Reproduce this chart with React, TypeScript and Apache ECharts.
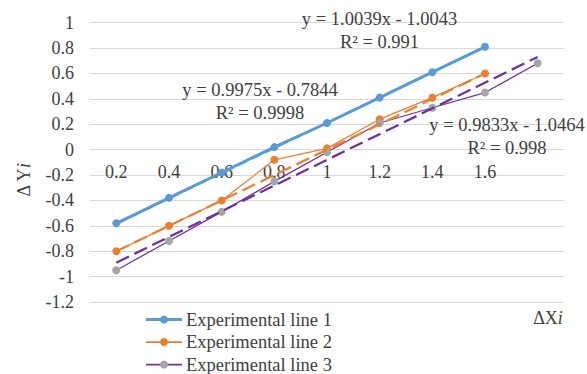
import React, { useEffect, useRef } from "react";
import * as echarts from "echarts";

const categories = ["0.2", "0.4", "0.6", "0.8", "1", "1.2", "1.4", "1.6", ""];
const line1 = [-0.58, -0.38, -0.18, 0.02, 0.21, 0.41, 0.61, 0.81];
const line2 = [-0.8, -0.6, -0.4, -0.08, 0.01, 0.24, 0.41, 0.6];
const line3 = [-0.95, -0.72, -0.49, -0.25, -0.02, 0.21, 0.33, 0.45, 0.68];
const trend1 = [-0.585, null, null, null, null, null, null, 0.81];
const trend2 = [-0.8, null, null, null, null, null, null, 0.6];
const trend3 = [-0.89, null, null, null, null, null, null, null, 0.73];
const seriesNames = ["Experimental line 1", "Experimental line 2", "Experimental line 3"];
const eq1 = ["y = 0.9975x - 0.7844", "R² = 0.9998"];
const eq2 = ["y = 1.0039x - 1.0043", "R² = 0.991"];
const eq3 = ["y = 0.9833x - 1.0464", "R² = 0.998"];
const yMin = -1.2;
const yMax = 1;
const yStep = 0.2;

const FONT = "Liberation Serif";
const TXT = "#404040";
const LINE_COLORS = ["#5B9BD5", "#ED7D31", "#7030A0"];
const MARK_COLORS = ["#5B9BD5", "#ED7D31", "#A5A5A5"];
const LINE_WIDTHS = [3, 1.25, 1.25];

const GRID_TOP = 22.7;
const GRID_BOTTOM = 72;
const H = 374;

export default function App() {
  const ref = useRef<HTMLDivElement>(null);
  useEffect(() => {
    const chart = echarts.init(ref.current!, null, { renderer: "svg" });
    const plotH = H - GRID_TOP - GRID_BOTTOM;
    const zeroFromBottom = plotH * (0 - yMin) / (yMax - yMin);
    const eqText = (lines: string[], x: number, y: number) => ({
      type: "text",
      x,
      y,
      style: {
        text: lines.join("\n"),
        fontSize: 18.5,
        fontFamily: FONT,
        fill: TXT,
        align: "center",
        verticalAlign: "top",
        lineHeight: 22.5,
      },
      z: 100,
    });
    const titleRich = {
      a: { fontSize: 18, fontFamily: FONT, fill: TXT },
      b: { fontSize: 18, fontFamily: FONT, fontStyle: "italic", fill: TXT },
    };
    const legendItems = seriesNames.map((name, i) => {
      const cy = 319.5 + i * 22.5;
      return {
        type: "group",
        children: [
          {
            type: "line",
            shape: { x1: 146, y1: cy, x2: 182, y2: cy },
            style: { stroke: LINE_COLORS[i], lineWidth: LINE_WIDTHS[i] + (i === 0 ? 0 : 0.5) },
          },
          { type: "circle", shape: { cx: 164, cy, r: 4 }, style: { fill: MARK_COLORS[i] } },
          {
            type: "text",
            x: 186,
            y: cy,
            style: { text: name, fontSize: 18.5, fontFamily: FONT, fill: TXT, verticalAlign: "middle", align: "left" },
          },
        ],
      };
    });
    const seriesStyle = (i: number) => ({
      symbol: "circle",
      symbolSize: 8,
      lineStyle: { color: LINE_COLORS[i], width: LINE_WIDTHS[i] },
      itemStyle: { color: MARK_COLORS[i] },
      z: 3,
    });
    chart.setOption({
      animation: false,
      textStyle: { fontFamily: FONT },
      grid: { left: 90, right: 23, top: GRID_TOP, bottom: GRID_BOTTOM, containLabel: false },
      xAxis: {
        type: "category",
        data: categories,
        boundaryGap: true,
        offset: -zeroFromBottom,
        axisLine: { onZero: false, lineStyle: { color: "#d9d9d9", width: 1 } },
        axisTick: { show: false },
        axisLabel: { color: TXT, fontSize: 18, fontFamily: FONT, margin: 13, interval: 0 },
        splitLine: { show: false },
      },
      yAxis: {
        type: "value",
        min: yMin,
        max: yMax,
        interval: yStep,
        axisLine: { show: false },
        axisTick: { show: false },
        axisLabel: {
          color: TXT,
          fontSize: 18,
          fontFamily: FONT,
          margin: 16,
          formatter: (v: number) => String(Math.round(v * 10) / 10),
        },
        splitLine: { lineStyle: { color: "#d9d9d9", width: 1 } },
      },
      legend: { show: false },
      series: [
        { name: seriesNames[0], type: "line", data: line1, ...seriesStyle(0) },
        { name: seriesNames[1], type: "line", data: line2, ...seriesStyle(1) },
        { name: seriesNames[2], type: "line", data: line3, ...seriesStyle(2) },
        {
          name: "trend1",
          type: "line",
          data: trend1,
          connectNulls: true,
          symbol: "none",
          lineStyle: { color: LINE_COLORS[0], width: 2, type: [10, 5] },
          z: 4,
        },
        {
          name: "trend2",
          type: "line",
          data: trend2,
          connectNulls: true,
          symbol: "none",
          lineStyle: { color: LINE_COLORS[1], width: 2.25, type: [14, 6] },
          z: 4,
        },
        {
          name: "trend3",
          type: "line",
          data: trend3,
          connectNulls: true,
          symbol: "none",
          lineStyle: { color: LINE_COLORS[2], width: 2.25, type: [14, 6] },
          z: 4,
        },
      ],
      graphic: [
        eqText(eq2, 379.5, 8),
        eqText(eq1, 260, 79),
        eqText(eq3, 507, 114),
        ...legendItems,
        {
          type: "text",
          x: 24,
          y: 180,
          rotation: Math.PI / 2,
          style: {
            text: "{a|Δ Y}{b|i}",
            align: "center",
            verticalAlign: "middle",
            rich: titleRich,
          },
        },
        {
          type: "text",
          x: 548,
          y: 318,
          style: {
            text: "{a|ΔX}{b|i}",
            align: "center",
            verticalAlign: "middle",
            rich: titleRich,
          },
        },
      ],
    });
    return () => chart.dispose();
  }, []);
  return <div ref={ref} style={{ width: 587, height: 374, position: "fixed", left: 0, top: 0, background: "#fff" }} />;
}
